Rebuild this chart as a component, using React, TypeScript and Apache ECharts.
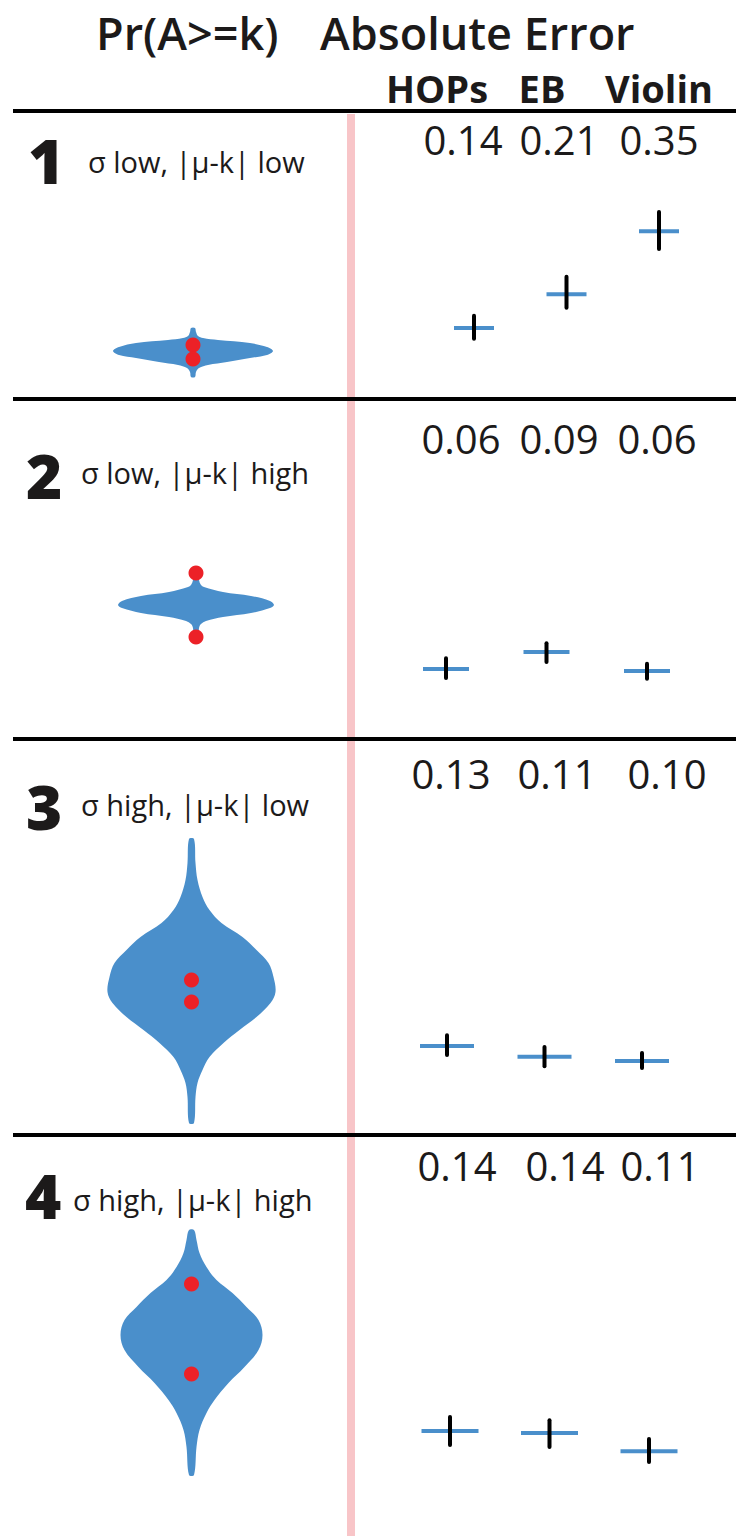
import React, { useEffect, useRef } from "react";
import * as echarts from "echarts";

// ---------- data ----------
const methods = ["HOPs", "EB", "Violin"];
const conditionIds = ["1", "2", "3", "4"];
const conditionLabels = [
  "σ low, |μ-k| low",
  "σ low, |μ-k| high",
  "σ high, |μ-k| low",
  "σ high, |μ-k| high",
];

// absolute error labels shown above each column
const errLabelsP1 = ["0.14", "0.21", "0.35"];
const errLabelsP2 = ["0.06", "0.09", "0.06"];
const errLabelsP3 = ["0.13", "0.11", "0.10"];
const errLabelsP4 = ["0.14", "0.14", "0.11"];

// mean absolute error (blue bar) and interval (black bar), per method
const meanP1 = [0.14, 0.212, 0.346];
const loP1 = [0.117, 0.183, 0.308];
const hiP1 = [0.166, 0.249, 0.387];

const meanP2 = [0.06, 0.096, 0.056];
const loP2 = [0.041, 0.075, 0.039];
const hiP2 = [0.083, 0.115, 0.071];

const meanP3 = [0.13, 0.107, 0.098];
const loP3 = [0.111, 0.087, 0.083];
const hiP3 = [0.153, 0.128, 0.115];

const meanP4 = [0.14, 0.136, 0.097];
const loP4 = [0.11, 0.106, 0.074];
const hiP4 = [0.17, 0.163, 0.123];

// violin outlines: outcome value (y) and density half-width (w)
const violinYP1 = [62, 58, 54, 52, 50, 47, 43, 39, 35, 32, 28, 25, 22, 18, 13];
const violinWP1 = [2, 3, 5, 10, 25, 57, 74, 80, 74, 57, 34, 15, 6, 3, 2];
const dotsP1 = [45, 31];

const violinYP2 = [76, 70, 65, 63, 58, 54, 49, 45, 42, 37, 33, 29, 26, 22, 13];
const violinWP2 = [2.5, 3, 5, 8, 27, 55, 74, 78, 74, 55, 27, 10, 5, 3, 2.5];
const dotsP2 = [77, 13];

const violinYP3 = [291, 267, 250, 233, 220, 207, 193, 180, 167, 153, 138, 127, 113, 100, 87, 73, 60, 47, 33, 7];
const violinWP3 = [2.5, 4, 6, 11, 18, 30, 51, 65, 77, 82, 84, 79, 65, 48, 32, 18, 11, 6, 4, 2.5];
const dotsP3 = [150, 128];

const violinYP4 = [250, 240, 227, 213, 200, 187, 173, 160, 145, 130, 113, 97, 80, 67, 50, 33, 5];
const violinWP4 = [2.5, 5, 8, 15, 25, 41, 55, 67, 71, 67, 53, 37, 23, 15, 8, 5, 2.5];
const dotsP4 = [196, 106];

// ---------- style / layout ----------
const BLUE = "#4a8fcb";
const RED = "#ec2127";
const PINK = "#f8c5c8";
const INK = "#1c1a1a";
const FONT = "'Open Sans', 'Noto Sans', sans-serif";
const K = 0.36; // central-baseline offset factor

const panels = [
  {
    mean: meanP1, lo: loP1, hi: hiP1, labels: errLabelsP1,
    vy: violinYP1, vw: violinWP1, dots: dotsP1,
    vGrid: { cx: 193, top: 320, height: 70 },
    cGrid: { left: 427.75, width: 277.5, top: 205.8 },
    barHalf: 20,
    numCenters: [463, 559, 659], numBase: 154,
    idLeft: 28, idBase: 182, labLeft: 88, labBase: 172,
  },
  {
    mean: meanP2, lo: loP2, hi: hiP2, labels: errLabelsP2,
    vy: violinYP2, vw: violinWP2, dots: dotsP2,
    vGrid: { cx: 196, top: 560, height: 90 },
    cGrid: { left: 395.75, width: 301.5, top: 509.2 },
    barHalf: 23,
    numCenters: [461, 559, 657], numBase: 453,
    idLeft: 26, idBase: 497, labLeft: 81, labBase: 483,
  },
  {
    mean: meanP3, lo: loP3, hi: hiP3, labels: errLabelsP3,
    vy: violinYP3, vw: violinWP3, dots: dotsP3,
    vGrid: { cx: 191.5, top: 830, height: 300 },
    cGrid: { left: 398.25, width: 292.5, top: 919.1 },
    barHalf: 27,
    numCenters: [451, 557, 667], numBase: 788,
    idLeft: 26, idBase: 828, labLeft: 81, labBase: 815,
  },
  {
    mean: meanP4, lo: loP4, hi: hiP4, labels: errLabelsP4,
    vy: violinYP4, vw: violinWP4, dots: dotsP4,
    vGrid: { cx: 191.5, top: 1220, height: 260 },
    cGrid: { left: 400.25, width: 298.5, top: 1308.8 },
    barHalf: 28.5,
    numCenters: [457, 565, 660], numBase: 1180,
    idLeft: 25, idBase: 1217, labLeft: 73, labBase: 1210,
  },
];
const separatorYs = [109, 397, 737, 1133];
const ERR_MAX = 0.4;
const ERR_PX = 188;

function txt(text: string, x: number, baseline: number, size: number, weight: any, align: string, z = 10) {
  return {
    type: "text",
    x,
    y: baseline - K * size,
    z,
    silent: true,
    style: {
      text,
      fontSize: size,
      fontFamily: FONT,
      fontWeight: weight,
      fill: INK,
      textAlign: align,
      textVerticalAlign: "middle",
    },
  };
}

function buildOption() {
  const grid: any[] = [];
  const xAxis: any[] = [];
  const yAxis: any[] = [];
  const series: any[] = [];
  const graphic: any[] = [];

  graphic.push({
    type: "rect",
    z: 1,
    silent: true,
    shape: { x: 347, y: 114, width: 8, height: 1422 },
    style: { fill: PINK },
  });
  separatorYs.forEach((y) =>
    graphic.push({
      type: "rect",
      z: 2,
      silent: true,
      shape: { x: 13, y, width: 723, height: 4 },
      style: { fill: "#000" },
    })
  );

  graphic.push(txt("Pr(A>=k)", 96, 48.5, 45, 600, "left"));
  graphic.push(txt("Absolute Error", 320, 48.5, 45, 600, "left"));
  const headCenters = [437, 542, 659];
  methods.forEach((m, j) => graphic.push(txt(m, headCenters[j], 102, 38, 700, "center")));

  panels.forEach((p, i) => {
    const gv = i * 2;
    const gc = i * 2 + 1;
    grid.push({ left: p.vGrid.cx - 100, width: 200, top: p.vGrid.top, height: p.vGrid.height });
    grid.push({ left: p.cGrid.left, width: p.cGrid.width, top: p.cGrid.top, height: ERR_PX });
    xAxis.push({ type: "value", gridIndex: gv, min: -100, max: 100, show: false });
    yAxis.push({ type: "value", gridIndex: gv, min: 0, max: p.vGrid.height, show: false });
    xAxis.push({ type: "category", gridIndex: gc, data: methods, show: false });
    yAxis.push({ type: "value", gridIndex: gc, min: 0, max: ERR_MAX, show: false });

    series.push({
      type: "custom",
      xAxisIndex: gv,
      yAxisIndex: gv,
      silent: true,
      clip: false,
      z: 2,
      data: [[0, 0]],
      renderItem: (_params: any, api: any) => {
        const right = p.vy.map((y, j) => api.coord([p.vw[j], y]));
        const left = p.vy.map((y, j) => api.coord([-p.vw[j], y])).reverse();
        return {
          type: "polygon",
          shape: { points: right.concat(left), smooth: 0.35 },
          style: { fill: BLUE },
        };
      },
    });
    series.push({
      type: "scatter",
      xAxisIndex: gv,
      yAxisIndex: gv,
      silent: true,
      z: 5,
      symbolSize: 15,
      itemStyle: { color: RED, opacity: 1 },
      data: p.dots.map((y) => [0, y]),
    });
    series.push({
      type: "custom",
      xAxisIndex: gc,
      yAxisIndex: gc,
      silent: true,
      clip: false,
      z: 3,
      data: methods.map((_m, j) => [j, p.mean[j], p.lo[j], p.hi[j]]),
      renderItem: (_params: any, api: any) => {
        const c = api.coord([api.value(0), api.value(1)]);
        const lo = api.coord([api.value(0), api.value(2)]);
        const hi = api.coord([api.value(0), api.value(3)]);
        return {
          type: "group",
          children: [
            {
              type: "line",
              shape: { x1: c[0] - p.barHalf, y1: c[1], x2: c[0] + p.barHalf, y2: c[1] },
              style: { stroke: BLUE, lineWidth: 4 },
            },
            {
              type: "line",
              shape: { x1: c[0], y1: hi[1], x2: c[0], y2: lo[1] },
              style: { stroke: "#000", lineWidth: 4, lineCap: "round" },
            },
          ],
        };
      },
    });

    graphic.push(txt(conditionIds[i], p.idLeft, p.idBase, 62, 800, "left"));
    graphic.push(txt(conditionLabels[i], p.labLeft, p.labBase, 29, 400, "left"));
    p.labels.forEach((l, j) => graphic.push(txt(l, p.numCenters[j], p.numBase, 40, 400, "center")));
  });

  return {
    animation: false,
    backgroundColor: "#fff",
    grid,
    xAxis,
    yAxis,
    series,
    graphic,
  };
}

export default function App() {
  const ref = useRef<HTMLDivElement>(null);
  useEffect(() => {
    if (!ref.current) return;
    const chart = echarts.init(ref.current, undefined, { renderer: "svg" });
    chart.setOption(buildOption() as any);
    return () => chart.dispose();
  }, []);
  return (
    <div
      ref={ref}
      style={{ position: "absolute", left: 0, top: 0, width: 736, height: 1536, background: "#fff" }}
    />
  );
}
